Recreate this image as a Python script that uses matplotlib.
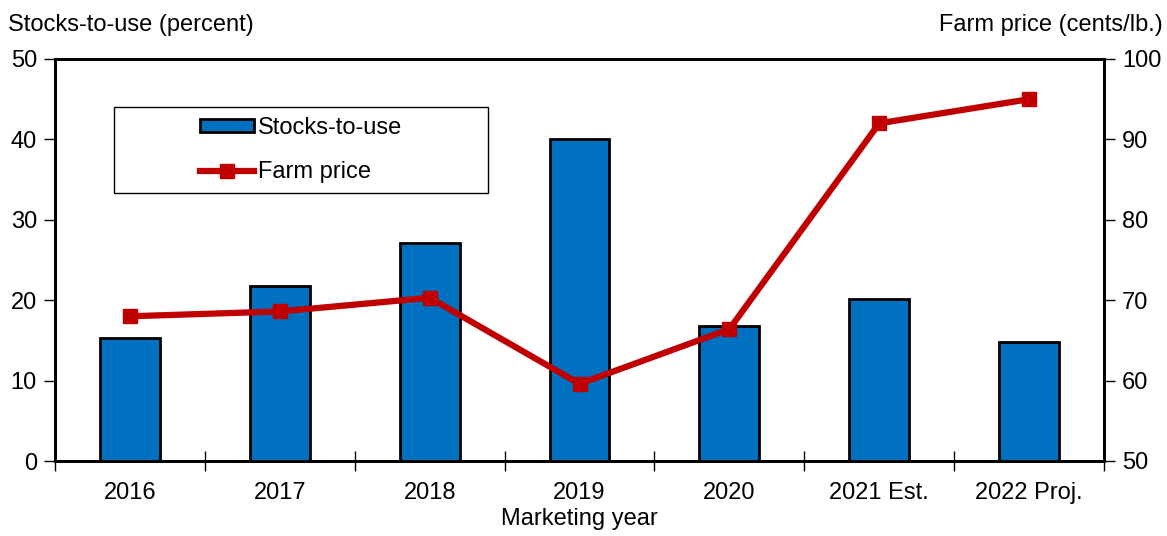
import matplotlib.pyplot as plt
from matplotlib.patches import Rectangle
import numpy as np

plt.rcParams['font.family'] = ['Liberation Sans', 'DejaVu Sans']

# data
years = ['2016', '2017', '2018', '2019', '2020', '2021 Est.', '2022 Proj.']
stocks_to_use = [15.3, 21.8, 27.1, 40.1, 16.8, 20.1, 14.8]
farm_price = [68.0, 68.6, 70.3, 59.6, 66.4, 92.0, 95.0]

blue = '#0070C0'
red = '#C00000'
fs = 17

fig = plt.figure(figsize=(11.67, 5.36), dpi=100)
ax = fig.add_axes([55 / 1167, 1 - 461 / 536, 1049 / 1167, 402 / 536])

x = np.arange(len(years))
bars = ax.bar(x, stocks_to_use, width=0.4, color=blue, edgecolor='black',
              linewidth=2, label='Stocks-to-use', zorder=2)
ax.set_xlim(-0.5, len(years) - 0.5)
ax.set_ylim(0, 50)
ax.set_yticks(range(0, 51, 10))

# category separators as ticks, labels centered
ax.set_xticks(np.arange(-0.5, len(years), 1))
ax.set_xticklabels([])
ax.set_xticks(x, minor=True)
ax.set_xticklabels(years, minor=True, fontsize=fs)
ax.tick_params(axis='x', which='minor', length=0, pad=15)
ax.tick_params(axis='x', which='major', direction='inout', length=15, width=1)
ax.tick_params(axis='y', direction='out', length=8, width=1, labelsize=fs, pad=5)

ax2 = ax.twinx()
line, = ax2.plot(x, farm_price, color=red, linewidth=4.5, marker='s',
                 markersize=10.5, label='Farm price', zorder=3)
ax2.set_ylim(50, 100)
ax2.set_yticks(range(50, 101, 10))
ax2.tick_params(axis='y', direction='out', length=8, width=1, labelsize=fs, pad=5)

for a in (ax, ax2):
    for s in a.spines.values():
        s.set_linewidth(2)

fig.text(8 / 1167, 1 - 25 / 536, 'Stocks-to-use (percent)', fontsize=fs,
         ha='left', va='center')
fig.text(1163 / 1167, 1 - 25 / 536, 'Farm price (cents/lb.)', fontsize=fs,
         ha='right', va='center')
ax.set_xlabel('Marketing year', fontsize=fs, labelpad=3)

# legend box
bx0, bx1 = (114 - 55) / 1049, (488 - 55) / 1049
by0, by1 = (461 - 193) / 402, (461 - 107) / 402
ax2.add_patch(Rectangle((bx0, by0), bx1 - bx0, by1 - by0, transform=ax2.transAxes,
                        facecolor='white', edgecolor='black', linewidth=1, zorder=4))
leg = ax2.legend([bars, line], ['Stocks-to-use', 'Farm price'],
                 loc='center', bbox_to_anchor=((bx0 + bx1) / 2, (by0 + by1) / 2),
                 fontsize=fs, frameon=False, labelspacing=0.95,
                 handlelength=2.3, handleheight=0.5, handletextpad=0.15)
leg.set_zorder(5)

fig.savefig('out.png', dpi=100)
